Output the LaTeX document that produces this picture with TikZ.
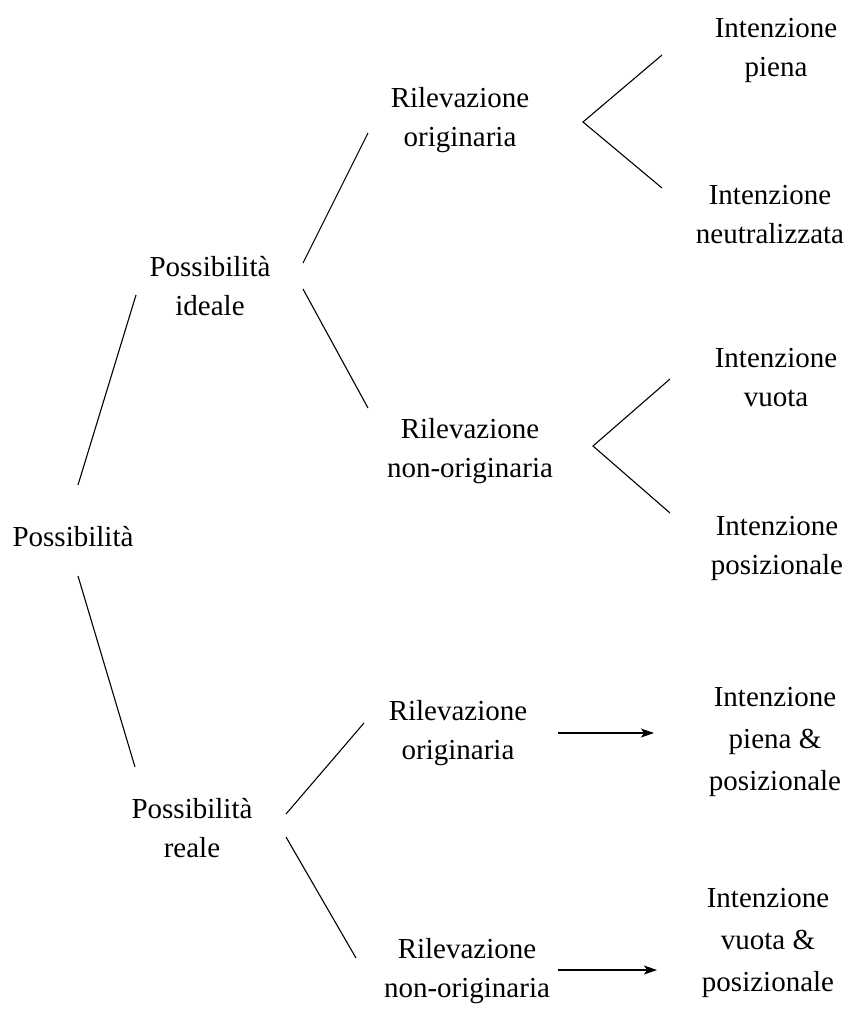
\documentclass[tikz,border=0pt]{standalone}
\usepackage{fontspec}
\setmainfont{Liberation Serif}
\usetikzlibrary{arrows.meta,calc}

\tikzset{
  term/.style={anchor=north, inner sep=0pt, align=center,
               font=\fontsize{29}{39.5}\selectfont},
  tallterm/.style={term, font=\fontsize{29}{42}\selectfont},
  branch/.style={line width=1.1pt},
  leadsto/.style={line width=1.1pt, -{Stealth[length=13pt,width=9pt,inset=3pt]}}
}

\begin{document}
\begin{tikzpicture}[x=1pt,y=-1pt]
\useasboundingbox (0,0) rectangle (847,1015);

% concepts, placed by the top of their first line
\node[term] (root)  at (73,526)  {Possibilità};
\node[term] (ideal) at (210,256) {Possibilità\\ideale};
\node[term] (real)  at (192,798) {Possibilità\\reale};

\node[term] (ro1)  at (460,87)  {Rilevazione\\originaria};
\node[term] (rno1) at (470,418) {Rilevazione\\non-originaria};
\node[term] (ro2)  at (458,700) {Rilevazione\\originaria};
\node[term] (rno2) at (467,938) {Rilevazione\\non-originaria};

\node[term] (ip)   at (776,18)  {Intenzione\\piena};
\node[term] (in)   at (770,185) {Intenzione\\neutralizzata};
\node[term] (iv)   at (776,348) {Intenzione\\vuota};
\node[term] (ipos) at (777,516) {Intenzione\\posizionale};
\node[tallterm] (ipp)  at (775,687) {Intenzione\\piena \&\\posizionale};
\node[tallterm] (ivp)  at (768,888) {Intenzione\\vuota \&\\posizionale};

% first split
\draw[branch] ($(root.north)+(5,-41)$) -- ($(ideal.north)+(-74,39)$);
\draw[branch] ($(root.north)+(5,50)$)  -- ($(real.north)+(-57,-31)$);

% ideal possibility
\draw[branch] ($(ideal.north)+(93,7)$)  -- ($(ro1.north)+(-92,46)$);
\draw[branch] ($(ideal.north)+(93,33)$) -- ($(rno1.north)+(-102,-10)$);

% forks towards the intentions
\coordinate (fork1) at ($(ro1.north)+(123,35)$);
\draw[branch] ($(ip.north)+(-114,37)$) -- (fork1) -- ($(in.north)+(-108,3)$);
\coordinate (fork2) at ($(rno1.north)+(123,28)$);
\draw[branch] ($(iv.north)+(-106,31)$) -- (fork2) -- ($(ipos.north)+(-107,-3)$);

% real possibility
\draw[branch] ($(real.north)+(94,16)$) -- ($(ro2.north)+(-94,23)$);
\draw[branch] ($(real.north)+(94,39)$) -- ($(rno2.north)+(-111,20)$);

\draw[leadsto] ($(ro2.north)+(100,33)$) -- ($(ipp.north)+(-121,46)$);
\draw[leadsto] ($(rno2.north)+(91,32)$) -- ($(ivp.north)+(-111,82)$);
\end{tikzpicture}
\end{document}
